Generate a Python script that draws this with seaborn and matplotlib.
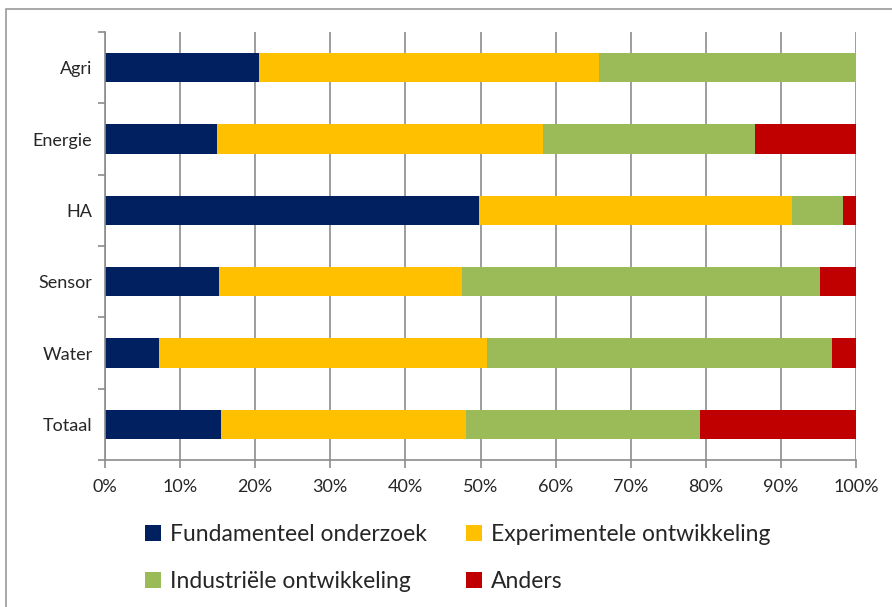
import numpy as np
import pandas as pd
import seaborn as sns
import matplotlib.pyplot as plt
from matplotlib.patches import Patch, Rectangle

# data (percentages per sector)
sectors = ['Agri', 'Energie', 'HA', 'Sensor', 'Water', 'Totaal']
fundamenteel = [20.5, 14.9, 49.8, 15.2, 7.2, 15.4]
experimenteel = [45.3, 43.4, 41.7, 32.3, 43.7, 32.7]
industrieel = [34.2, 28.3, 6.8, 47.7, 45.9, 31.1]
anders = [0.0, 13.4, 1.7, 4.8, 3.2, 20.8]

series_names = ['Fundamenteel onderzoek', 'Experimentele ontwikkeling',
                'Industriële ontwikkeling', 'Anders']
colors = ['#002060', '#FFC000', '#9BBB59', '#C00000']

sns.set_theme(style='white')
plt.rcParams['font.family'] = ['Lato', 'DejaVu Sans']

df = pd.DataFrame({'sector': sectors,
                   series_names[0]: fundamenteel,
                   series_names[1]: experimenteel,
                   series_names[2]: industrieel,
                   series_names[3]: anders})
cum = df[series_names].cumsum(axis=1)

fig = plt.figure(figsize=(8.92, 6.07), dpi=100)
ax = fig.add_axes([105 / 892, 1 - 460 / 607, 751 / 892, 428 / 607])

# outer chart frame
fig.patches.append(Rectangle((6 / 892, -0.1), 1.2, 1 - 9 / 607 + 0.1,
                             transform=fig.transFigure, fill=False,
                             edgecolor='#9a9a9a', linewidth=1.2))

# stacked bars: draw cumulative totals from the back to the front
for name, col in reversed(list(zip(series_names, colors))):
    sns.barplot(x=cum[name], y=df['sector'], orient='h', color=col,
                width=0.41, saturation=1, linewidth=0, ax=ax)

ax.set_xlim(0, 100)
ax.set_ylim(5.5, -0.5)
ax.set_xticks(np.arange(0, 101, 10))
ax.set_xticklabels([f'{v}%' for v in range(0, 101, 10)], fontsize=13)
ax.set_yticks(range(len(sectors)))
ax.set_yticklabels(sectors, fontsize=13)
ax.set_yticks(np.arange(-0.5, 6, 1), minor=True)
ax.tick_params(axis='y', which='major', length=0, pad=9)
ax.tick_params(axis='y', which='minor', length=5, color='#8c8c8c', width=1.2, left=True)
ax.tick_params(axis='x', length=6, color='#8c8c8c', width=1.2, bottom=True, pad=8)
ax.set_xlabel('')
ax.set_ylabel('')
ax.grid(axis='x', color='#8c8c8c', linewidth=1.2)
ax.set_axisbelow(True)
for side in ['top', 'right']:
    ax.spines[side].set_visible(False)
for side in ['left', 'bottom']:
    ax.spines[side].set_color('#8c8c8c')
    ax.spines[side].set_linewidth(1.2)

# legend filled row by row: (Fundamenteel, Experimenteel) / (Industrieel, Anders)
order = [0, 2, 1, 3]
handles = [Patch(facecolor=colors[i], edgecolor='none') for i in order]
labels = [series_names[i] for i in order]
fig.legend(handles, labels, loc='center', ncol=2, frameon=False,
           bbox_to_anchor=(458 / 892, 1 - 558 / 607), fontsize=16.5,
           handlelength=0.7, handleheight=0.7, handletextpad=0.4,
           columnspacing=1.7, labelspacing=1.1)

fig.savefig('out.png', dpi=100)
